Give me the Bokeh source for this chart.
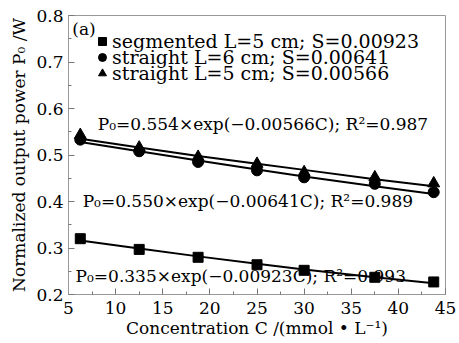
from bokeh.plotting import figure
from bokeh.models import Range1d, Label, Legend, LegendItem, FixedTicker, ColumnDataSource
from bokeh.embed import file_html
from bokeh.resources import INLINE

# ---- data ----
conc = [6.25, 12.5, 18.75, 25, 30, 37.5, 43.75]
p_segmented_L5 = [0.320, 0.297, 0.280, 0.264, 0.252, 0.237, 0.227]
p_straight_L6 = [0.533, 0.508, 0.485, 0.467, 0.452, 0.438, 0.420]
p_straight_L5 = [0.543, 0.516, 0.496, 0.481, 0.463, 0.452, 0.439]

# fitted curves as they appear in the picture (values at each concentration)
fit_segmented_L5 = [0.316, 0.299, 0.282, 0.266, 0.254, 0.237, 0.224]
fit_straight_L6 = [0.528, 0.508, 0.488, 0.469, 0.454, 0.433, 0.416]
fit_straight_L5 = [0.535, 0.516, 0.498, 0.481, 0.468, 0.448, 0.433]

legend_labels = ["segmented L=5 cm; S=0.00923",
                 "straight L=6 cm; S=0.00641",
                 "straight L=5 cm; S=0.00566"]
fit_labels = ["P\u2080=0.554\u00d7exp(\u22120.00566C); R\u00b2=0.987",
              "P\u2080=0.550\u00d7exp(\u22120.00641C); R\u00b2=0.989",
              "P\u2080=0.335\u00d7exp(\u22120.00923C); R\u00b2=0.993"]
x_ticks = [5, 10, 15, 20, 25, 30, 35, 40, 45]
x_minor = [7.5, 12.5, 17.5, 22.5, 27.5, 32.5, 37.5, 42.5]
y_ticks = [0.2, 0.3, 0.4, 0.5, 0.6, 0.7, 0.8]
y_minor = [0.25, 0.35, 0.45, 0.55, 0.65, 0.75]

FONT = "DejaVu Serif"

p = figure(width=457, height=343, output_backend="svg", toolbar_location=None,
           x_range=Range1d(5, 45), y_range=Range1d(0.2, 0.8),
           min_border_left=68, min_border_right=12, min_border_top=15, min_border_bottom=49)
p.background_fill_color = "white"
p.border_fill_color = "white"
p.outline_line_color = "#999999"
p.outline_line_width = 1
p.xgrid.visible = False
p.ygrid.visible = False

for ax in (p.xaxis[0], p.yaxis[0]):
    ax.axis_line_color = "#999999"
    ax.major_tick_line_color = "#777777"
    ax.minor_tick_line_color = "#777777"
    ax.major_tick_in = 6
    ax.major_tick_out = 0
    ax.minor_tick_in = 3
    ax.minor_tick_out = 0
    ax.major_label_text_font = FONT
    ax.major_label_text_font_size = "17px"
    ax.major_label_text_color = "black"
    ax.axis_label_text_font = FONT
    ax.axis_label_text_font_size = "17px"
    ax.axis_label_text_font_style = "normal"
    ax.axis_label_text_color = "black"

p.xaxis.major_label_standoff = 7
p.xaxis.axis_label_standoff = 1
p.yaxis.major_label_standoff = 5
p.yaxis.axis_label_standoff = 4

p.xaxis.ticker = FixedTicker(ticks=x_ticks, minor_ticks=x_minor)
p.yaxis.ticker = FixedTicker(ticks=y_ticks, minor_ticks=y_minor)
p.xaxis.axis_label = "Concentration C /(mmol \u2022 L\u207b\u00b9)"
p.yaxis.axis_label = "Normalized output power P\u2080 /W"

src = ColumnDataSource(dict(x=conc, seg=p_segmented_L5, s6=p_straight_L6, s5=p_straight_L5,
                            fseg=fit_segmented_L5, fs6=fit_straight_L6, fs5=fit_straight_L5))

p.line("x", "fseg", source=src, line_color="black", line_width=2)
p.line("x", "fs6", source=src, line_color="black", line_width=2)
p.line("x", "fs5", source=src, line_color="black", line_width=2)

r_sq = p.scatter("x", "seg", source=src, marker="square", size=10, color="black")
r_ci = p.scatter("x", "s6", source=src, marker="circle", size=11, color="black")
r_tr = p.scatter("x", "s5", source=src, marker="triangle", size=12, color="black")

# one legend box per entry, stacked tightly as in the reference
legend_y = [242, 226, 210]
for lab, rend, ly in zip(legend_labels, [r_sq, r_ci, r_tr], legend_y):
    lg = Legend(items=[LegendItem(label=lab, renderers=[rend])],
                location=(24, ly), label_text_font=FONT, label_text_font_size="19px",
                label_text_color="black",
                background_fill_alpha=0, border_line_alpha=0, padding=0, spacing=0,
                label_height=16, glyph_height=22, glyph_width=20, label_standoff=0, margin=0)
    p.add_layout(lg)

p.add_layout(Label(x=5.4, y=0.770, text="(a)", text_font=FONT, text_font_size="17px",
                   text_color="black", text_baseline="middle"))
fit_pos = [(8.1, 0.567), (6.5, 0.402), (5.75, 0.240)]
for (fx, fy), t in zip(fit_pos, fit_labels):
    p.add_layout(Label(x=fx, y=fy, text=t, text_font=FONT, text_font_size="17px",
                       text_color="black", text_baseline="middle"))

open("out.html", "w").write(file_html(p, INLINE))
